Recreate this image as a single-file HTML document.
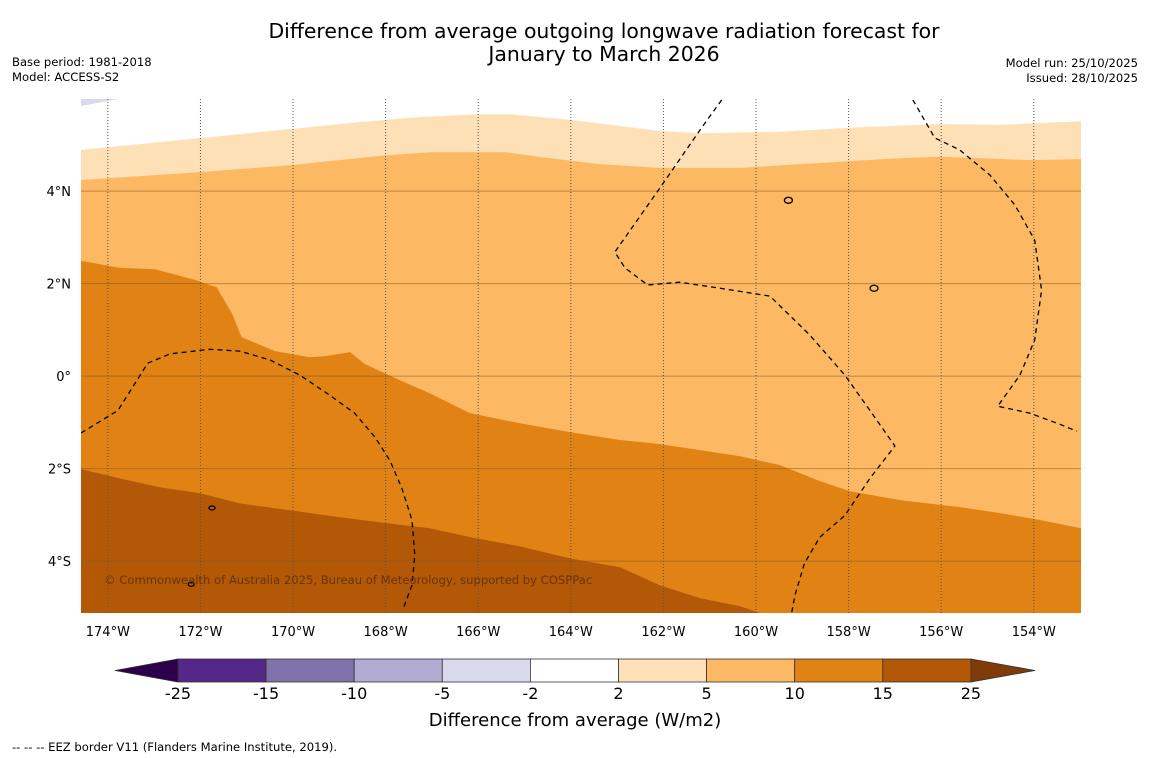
<!DOCTYPE html>
<html><head><meta charset="utf-8">
<style>
body{margin:0;background:#fff;width:1150px;height:758px;overflow:hidden;font-family:"DejaVu Sans","Liberation Sans",sans-serif;}
svg{position:absolute;left:0;top:0}
</style></head>
<body>
<svg id="chart" width="1150" height="758">
<text x="604" y="38" font-size="20.4" text-anchor="middle">Difference from average outgoing longwave radiation forecast for</text>
<text x="604" y="61" font-size="20.4" text-anchor="middle">January to March 2026</text>
<text x="12" y="66" font-size="11.6">Base period: 1981-2018</text>
<text x="12" y="81" font-size="11.6">Model: ACCESS-S2</text>
<text x="1138" y="67" font-size="11.6" text-anchor="end">Model run: 25/10/2025</text>
<text x="1138" y="82" font-size="11.6" text-anchor="end">Issued: 28/10/2025</text>
<defs><clipPath id="mapclip"><rect x="81" y="99" width="1000" height="514"/></clipPath></defs>
<g id="map" clip-path="url(#mapclip)"></g>
<g id="axes"></g>
<text x="104" y="584" font-size="11.6" fill="#5a2e06" fill-opacity="0.85">© Commonwealth of Australia 2025, Bureau of Meteorology, supported by COSPPac</text>
<g id="cbar"></g>
<text x="575" y="726" font-size="18" text-anchor="middle">Difference from average (W/m2)</text>
<text x="12" y="751" font-size="11.6">--  --  -- EEZ border V11 (Flanders Marine Institute, 2019).</text>
</svg>
<script>
// Contour boundaries [lon, lat]
const bound2 = [[-174.58,4.89],[-169.85,5.36],[-168.56,5.49],[-167.26,5.60],[-165.97,5.66],[-165.32,5.66],[-164.02,5.54],[-162.08,5.30],[-161.21,5.25],[-159.49,5.28],[-157.76,5.38],[-156.03,5.45],[-154.73,5.43],[-152.98,5.51]];
const bound5 = [[-174.58,4.24],[-172.01,4.41],[-170.07,4.56],[-168.13,4.76],[-167.05,4.84],[-165.43,4.84],[-164.45,4.71],[-163.37,4.58],[-162.08,4.50],[-160.35,4.50],[-159.06,4.58],[-156.89,4.71],[-156.03,4.74],[-154.09,4.67],[-152.98,4.69]];
const bound10 = [[-174.58,2.49],[-173.74,2.34],[-172.98,2.31],[-172.12,2.08],[-171.65,1.92],[-171.32,1.36],[-171.11,0.84],[-170.39,0.54],[-169.64,0.41],[-169.31,0.43],[-168.77,0.52],[-168.45,0.26],[-167.69,-0.09],[-167.05,-0.37],[-166.18,-0.80],[-165.10,-1.02],[-164.02,-1.21],[-162.94,-1.38],[-162.08,-1.47],[-161.21,-1.60],[-160.35,-1.73],[-159.49,-1.92],[-158.62,-2.27],[-157.97,-2.49],[-156.89,-2.68],[-155.60,-2.83],[-154.73,-2.96],[-153.87,-3.11],[-152.98,-3.29]];
const bound15 = [[-174.58,-2.01],[-173.74,-2.21],[-172.88,-2.40],[-172.01,-2.53],[-171.15,-2.75],[-170.07,-2.90],[-168.99,-3.05],[-168.13,-3.16],[-167.05,-3.29],[-166.18,-3.48],[-165.10,-3.68],[-164.02,-3.94],[-162.94,-4.13],[-162.08,-4.52],[-161.21,-4.80],[-160.35,-4.97],[-159.92,-5.12]];
const eez1 = [[-174.58,-1.23],[-173.78,-0.74],[-173.14,0.28],[-172.66,0.48],[-171.80,0.58],[-171.15,0.54],[-170.50,0.35],[-169.85,0.02],[-169.21,-0.41],[-168.67,-0.80],[-168.23,-1.32],[-167.91,-1.82],[-167.65,-2.42],[-167.43,-3.11],[-167.37,-3.87],[-167.43,-4.52],[-167.61,-5.0]];
const eez2 = [[-160.74,5.97],[-161.21,5.32],[-162.08,4.06],[-163.05,2.68],[-162.83,2.34],[-162.34,1.97],[-161.65,2.03],[-160.78,1.90],[-159.70,1.73],[-158.84,0.89],[-158.08,0.02],[-157.54,-0.74],[-157.00,-1.51],[-157.54,-2.21],[-158.08,-3.01],[-158.62,-3.48],[-158.95,-4.04],[-159.16,-4.74],[-159.23,-5.12]];
const eez3 = [[-156.61,5.97],[-156.14,5.15],[-155.60,4.89],[-154.95,4.35],[-154.41,3.70],[-153.98,2.94],[-153.83,1.86],[-153.98,0.78],[-154.30,0.02],[-154.78,-0.65],[-154.09,-0.80],[-153.44,-1.04],[-153.07,-1.19]];
const lonTicks = [-174,-172,-170,-168,-166,-164,-162,-160,-158,-156,-154];
const latTicks = [4,2,0,-2,-4];
const cbLevels = [-25,-15,-10,-5,-2,2,5,10,15,25];
const cbColors = ["#542788","#8073ac","#b2abd2","#d8daeb","#ffffff","#fee0b6","#fdb863","#e08214","#b35806"];
const cbUnder = "#2d004b", cbOver = "#7f3b08";

const NS="http://www.w3.org/2000/svg";
const X0=81,X1=1081,Y0=99,Y1=613, LON0=-174.58,LON1=-152.98,LAT0=-5.12,LAT1=5.99;
const xs=lon=>X0+(lon-LON0)/(LON1-LON0)*(X1-X0);
const ys=lat=>Y1-(lat-LAT0)/(LAT1-LAT0)*(Y1-Y0);
function mk(tag,attrs,parent){const e=document.createElementNS(NS,tag);for(const k in attrs)e.setAttribute(k,attrs[k]);parent.appendChild(e);return e;}
const pts=a=>a.map(p=>xs(p[0]).toFixed(1)+","+ys(p[1]).toFixed(1)).join(" ");
const map=document.getElementById("map");
let r=mk("rect",{x:X0,y:Y0,width:X1-X0,height:Y1-Y0,fill:"#e08214"},map);


function above(b,fill,name){const p=mk("polygon",{points:pts(b)+` ${X1},${Y0-5} ${X0},${Y0-5}`,fill:fill},map);

}
above(bound10,"#fdb863","band-5-10");
above(bound5,"#fee0b6","band-2-5");
above(bound2,"#ffffff","band-neutral");
let p=mk("polygon",{points:pts(bound15)+` ${X0},${Y1+5}`,fill:"#b35806"},map);


p=mk("polygon",{points:`${X0},${Y0} 118,${Y0} ${X0},106`,fill:"#d8daeb"},map);


latTicks.forEach(t=>{const l=mk("line",{x1:X0,x2:X1,y1:ys(t),y2:ys(t),stroke:"#8a5a20","stroke-opacity":0.55,"stroke-width":1},map);

});
lonTicks.forEach(t=>{const l=mk("line",{x1:xs(t),x2:xs(t),y1:Y0,y2:Y1,stroke:"#555","stroke-width":1,"stroke-dasharray":"1,2"},map);

});
[eez1,eez2,eez3].forEach(e=>{const l=mk("polyline",{points:pts(e),fill:"none",stroke:"#000","stroke-width":1.3,"stroke-dasharray":"5,4"},map);

});
[[-159.3,3.8,4,3],[-157.45,1.9,4,3],[-171.75,-2.85,3,2],[-172.2,-4.5,3,2]].forEach(i=>{const e=mk("ellipse",{cx:xs(i[0]),cy:ys(i[1]),rx:i[2],ry:i[3],fill:"none",stroke:"#000","stroke-width":1.3},map);

});
const ax=document.getElementById("axes");
lonTicks.forEach(t=>{const e=mk("text",{x:xs(t),y:636,"font-size":13,"text-anchor":"middle"},ax);e.textContent=Math.abs(t)+"°W";

});
latTicks.forEach(t=>{const e=mk("text",{x:71,y:ys(t)+5,"font-size":13,"text-anchor":"end"},ax);e.textContent=t===0?"0°":Math.abs(t)+"°"+(t>0?"N":"S");

});
const cb=document.getElementById("cbar");
const CB0=178,CBW=88.1,CY=659,CH=23;
cbColors.forEach((c,i)=>{const e=mk("rect",{x:CB0+i*CBW,y:CY,width:CBW,height:CH,fill:c,stroke:"#333","stroke-width":0.8},cb);

});
let t1=mk("polygon",{points:`${CB0},${CY} ${CB0},${CY+CH} 115,${CY+CH/2}`,fill:cbUnder,stroke:"#333","stroke-width":0.8},cb);


const end=CB0+cbColors.length*CBW;
let t2=mk("polygon",{points:`${end},${CY} ${end},${CY+CH} 1035,${CY+CH/2}`,fill:cbOver,stroke:"#333","stroke-width":0.8},cb);


cbLevels.forEach((v,i)=>{const e=mk("text",{x:CB0+i*CBW,y:699,"font-size":16,"text-anchor":"middle"},cb);e.textContent=v;

});
</script>
</body></html>
